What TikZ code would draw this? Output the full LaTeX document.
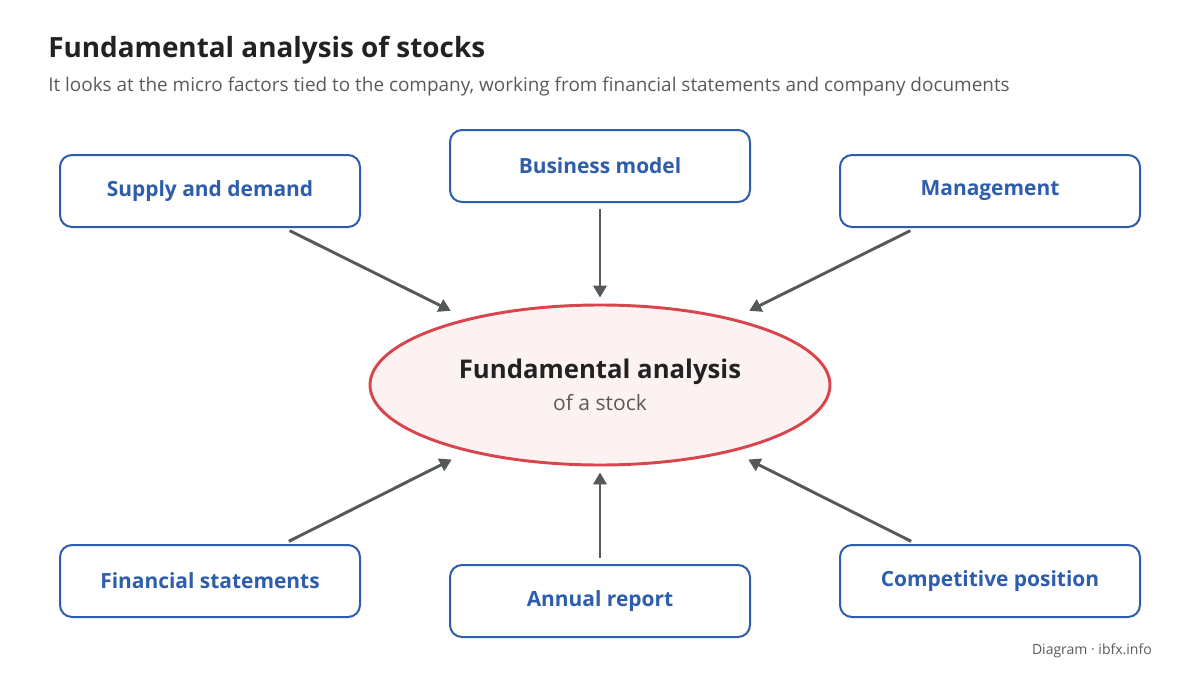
\documentclass[tikz,border=0pt]{standalone}
\usepackage{fontspec}
\setmainfont{Open Sans}
\usetikzlibrary{shapes.geometric, arrows.meta, positioning}
\definecolor{boxblue}{HTML}{2E5DAC}
\definecolor{hubred}{HTML}{D9454D}
\definecolor{hubfill}{HTML}{FDF2F2}
\definecolor{arrgray}{HTML}{545957}
\definecolor{titlegray}{HTML}{222222}
\definecolor{subgray}{HTML}{5A5A5A}

\begin{document}
\begin{tikzpicture}[
      x=0.75pt, y=-0.75pt,
      factor/.style = {draw=boxblue, line width=1.5pt, fill=white,
                       minimum width=225pt, minimum height=54pt,
                       rounded corners=9pt, text=boxblue,
                       font=\fontsize{15.7}{19}\selectfont\bfseries, align=center},
      hub/.style    = {ellipse, draw=hubred, line width=2.2pt, fill=hubfill,
                       minimum width=345pt, minimum height=120pt, align=center},
      arr/.style    = {-{Triangle[length=9pt, width=10pt]}, line width=2.2pt,
                       color=arrgray, shorten <=4.5pt},
      diag/.style   = {arr, shorten >=13pt},
      vert/.style   = {arr, shorten >=4.5pt},
    ]
    \useasboundingbox (0,0) rectangle (1200,675);

    % --- Titolo ---
    \node[anchor=base west, text=titlegray, font=\fontsize{20.9}{25}\selectfont\bfseries,
          inner sep=0pt] (title) at (48,57) {Fundamental analysis of stocks};
    \node[anchor=base west, text=subgray, font=\fontsize{14.2}{17}\selectfont,
          inner sep=0pt] (subtitle) at (48,91)
          {It looks at the micro factors tied to the company, working from financial statements and company documents};

    % --- Nodo centrale ---
    \node[hub] (fa) at (600,385)
      {{\fontsize{19.3}{23}\selectfont\bfseries\color{titlegray}Fundamental analysis}\\[6pt]
       {\fontsize{15.8}{19}\selectfont\color{subgray}of a stock}};

    % --- Fattori ---
    \node[factor] (supply)  at (210,191) {Supply and demand};
    \node[factor] (bmodel)  at (600,166) {Business model};
    \node[factor] (mgmt)    at (990,191) {Management};
    \node[factor] (fin)     at (210,581) {Financial statements};
    \node[factor] (annual)  at (600,601) {Annual report};
    \node[factor] (compet)  at (990,581) {Competitive position};

    % --- Frecce verso il centro ---
    \draw[diag] (supply) -- (fa);
    \draw[vert] (bmodel) -- (fa);
    \draw[diag] (mgmt)   -- (fa);
    \draw[diag] (fin)    -- (fa);
    \draw[vert] (annual) -- (fa);
    \draw[diag] (compet) -- (fa);

    % --- Fonte ---
    \node[anchor=base east, text=subgray, font=\fontsize{10.5}{13}\selectfont,
          inner sep=0pt] (source) at (1152,654) {Diagram · ibfx.info};

  \end{tikzpicture}
\end{document}
